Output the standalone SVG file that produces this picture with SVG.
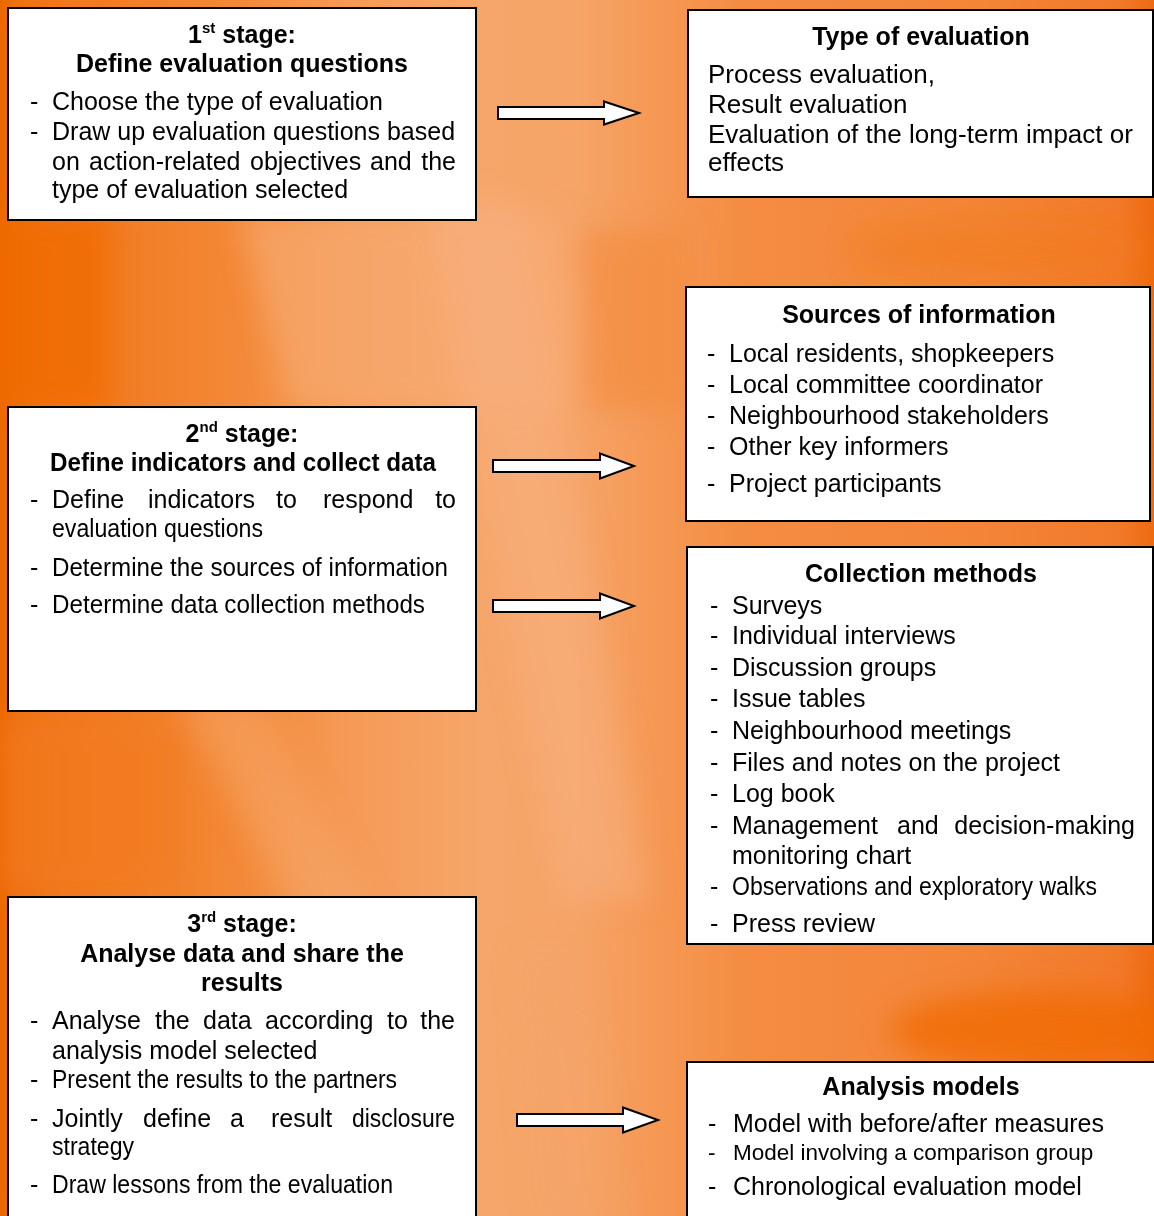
<svg xmlns="http://www.w3.org/2000/svg" width="1154" height="1216" viewBox="0 0 1154 1216">
<style>
.box{fill:#fff;stroke:#000;stroke-width:2}
.arrow{fill:#fff;stroke:#000;stroke-width:2;stroke-linejoin:miter}
text{font-family:"Liberation Sans",Arial,Helvetica,sans-serif;font-size:25px;fill:#000}
.b{font-weight:bold}
.c{text-anchor:middle}
.e{text-anchor:end}
.t26{font-size:26px}
.s{font-size:22.5px}
</style>
<defs>
<linearGradient id="bg" x1="0" y1="0" x2="1" y2="0">
<stop offset="0" stop-color="#ec6602"/>
<stop offset="0.015" stop-color="#f07416"/>
<stop offset="0.1" stop-color="#f27c24"/>
<stop offset="0.2" stop-color="#f38836"/>
<stop offset="0.3" stop-color="#f59a56"/>
<stop offset="0.42" stop-color="#f6a66a"/>
<stop offset="0.5" stop-color="#f6a468"/>
<stop offset="0.57" stop-color="#f59854"/>
<stop offset="0.65" stop-color="#f48c42"/>
<stop offset="0.85" stop-color="#f38538"/>
<stop offset="0.97" stop-color="#f2792a"/>
<stop offset="1" stop-color="#ee6a10"/>
</linearGradient>
<filter id="blur" x="-30%" y="-30%" width="160%" height="160%"><feGaussianBlur stdDeviation="14"/></filter>
</defs>

<g id="background">
<rect x="0" y="0" width="1154" height="1216" fill="url(#bg)"/>
<g filter="url(#blur)">
<rect x="-20" y="215" width="130" height="195" fill="#f06a00" opacity="0.8"/>
<polygon points="240,215 560,215 600,410 290,410" fill="#f7ac74" opacity="0.6"/>
<polygon points="430,200 520,200 650,900 560,900" fill="#f8b282" opacity="0.5"/>
<polygon points="180,700 260,700 420,1000 340,1000" fill="#f7aa72" opacity="0.45"/>
<polygon points="1010,700 1080,700 1150,900 1070,900" fill="#f7ae78" opacity="0.5"/>
<polygon points="520,950 580,950 620,1216 540,1216" fill="#f6a468" opacity="0.5"/>
<ellipse cx="1040" cy="1030" rx="150" ry="40" fill="#f06a05" opacity="0.75"/>
<rect x="580" y="230" width="110" height="180" fill="#f48a3e" opacity="0.6"/>
<ellipse cx="1000" cy="250" rx="150" ry="30" fill="#f27a1a" opacity="0.5"/>
<rect x="-20" y="0" width="50" height="1216" fill="#ee6a08" opacity="0.5"/>
<rect x="0" y="720" width="180" height="170" fill="#f27a1e" opacity="0.6"/>
</g>
</g>

<g id="stage1">
<rect class="box" x="8" y="8" width="468" height="212"/>
<text class="b c" x="242" y="43">1<tspan font-size="15" dy="-10">st</tspan><tspan dy="10"> stage:</tspan></text>
<text class="b c" x="242" y="72">Define evaluation questions</text>
<text x="30" y="110">-</text>
<text x="52" y="110">Choose the type of evaluation</text>
<text x="30" y="140">-</text>
<text x="52" y="140">Draw up evaluation questions based</text>
<text y="170"><tspan x="52">on</tspan><tspan x="89">action-related</tspan><tspan x="250">objectives</tspan><tspan x="370">and</tspan></text>
<text class="e" x="456" y="170">the</text>
<text x="52" y="198">type of evaluation selected</text>
</g>

<g id="type-of-evaluation">
<rect class="box" x="688" y="10" width="465" height="187"/>
<text class="b c" x="921" y="45">Type of evaluation</text>
<text class="t26" x="708" y="83">Process evaluation,</text>
<text class="t26" x="708" y="113">Result evaluation</text>
<text class="t26" x="708" y="143">Evaluation of the long-term impact or</text>
<text class="t26" x="708" y="171">effects</text>
</g>

<g id="sources-of-information">
<rect class="box" x="686" y="287" width="464" height="234"/>
<text class="b c" x="919" y="323">Sources of information</text>
<text x="707" y="362">-</text><text x="729" y="362">Local residents, shopkeepers</text>
<text x="707" y="393">-</text><text x="729" y="393">Local committee coordinator</text>
<text x="707" y="424">-</text><text x="729" y="424">Neighbourhood stakeholders</text>
<text x="707" y="455">-</text><text x="729" y="455">Other key informers</text>
<text x="707" y="492">-</text><text x="729" y="492">Project participants</text>
</g>

<g id="stage2">
<rect class="box" x="8" y="407" width="468" height="304"/>
<text class="b c" x="242" y="442">2<tspan font-size="15" dy="-10">nd</tspan><tspan dy="10"> stage:</tspan></text>
<text class="b" x="50" y="471" textLength="386" lengthAdjust="spacingAndGlyphs">Define indicators and collect data</text>
<text x="30" y="508">-</text>
<text y="508"><tspan x="52">Define</tspan><tspan x="148">indicators</tspan><tspan x="276">to</tspan><tspan x="323">respond</tspan></text>
<text class="e" x="456" y="508">to</text>
<text x="52" y="537" textLength="211" lengthAdjust="spacingAndGlyphs">evaluation questions</text>
<text x="30" y="576">-</text>
<text x="52" y="576" textLength="396" lengthAdjust="spacingAndGlyphs">Determine the sources of information</text>
<text x="30" y="613">-</text>
<text x="52" y="613" textLength="373" lengthAdjust="spacingAndGlyphs">Determine data collection methods</text>
</g>

<g id="collection-methods">
<rect class="box" x="687" y="547" width="466" height="397"/>
<text class="b c" x="921" y="582">Collection methods</text>
<text x="710" y="614">-</text><text x="732" y="614">Surveys</text>
<text x="710" y="644">-</text><text x="732" y="644">Individual interviews</text>
<text x="710" y="676">-</text><text x="732" y="676">Discussion groups</text>
<text x="710" y="707">-</text><text x="732" y="707">Issue tables</text>
<text x="710" y="739">-</text><text x="732" y="739">Neighbourhood meetings</text>
<text x="710" y="771">-</text><text x="732" y="771">Files and notes on the project</text>
<text x="710" y="802">-</text><text x="732" y="802">Log book</text>
<text x="710" y="834">-</text>
<text y="834"><tspan x="732">Management</tspan><tspan x="897">and</tspan></text>
<text class="e" x="1135" y="834">decision-making</text>
<text x="732" y="864">monitoring chart</text>
<text x="710" y="895">-</text><text x="732" y="895" textLength="365" lengthAdjust="spacingAndGlyphs">Observations and exploratory walks</text>
<text x="710" y="932">-</text><text x="732" y="932">Press review</text>
</g>

<g id="stage3">
<rect class="box" x="8" y="897" width="468" height="340"/>
<text class="b c" x="242" y="932">3<tspan font-size="15" dy="-10">rd</tspan><tspan dy="10"> stage:</tspan></text>
<text class="b c" x="242" y="962">Analyse data and share the</text>
<text class="b c" x="242" y="991">results</text>
<text x="30" y="1029">-</text>
<text y="1029"><tspan x="52">Analyse</tspan><tspan x="155">the</tspan><tspan x="203">data</tspan><tspan x="265">according</tspan><tspan x="387">to</tspan></text>
<text class="e" x="455" y="1029">the</text>
<text x="52" y="1059">analysis model selected</text>
<text x="30" y="1088">-</text>
<text x="52" y="1088" textLength="345" lengthAdjust="spacingAndGlyphs">Present the results to the partners</text>
<text x="30" y="1127">-</text>
<text y="1127"><tspan x="52">Jointly</tspan><tspan x="143">define</tspan><tspan x="230">a</tspan><tspan x="271">result</tspan></text>
<text x="352" y="1127" textLength="103" lengthAdjust="spacingAndGlyphs">disclosure</text>
<text x="52" y="1155" textLength="82" lengthAdjust="spacingAndGlyphs">strategy</text>
<text x="30" y="1193">-</text>
<text x="52" y="1193" textLength="341" lengthAdjust="spacingAndGlyphs">Draw lessons from the evaluation</text>
</g>

<g id="analysis-models">
<rect class="box" x="687" y="1062" width="470" height="170"/>
<text class="b c" x="921" y="1095">Analysis models</text>
<text x="708" y="1132">-</text><text x="733" y="1132">Model with before/after measures</text>
<text class="s" x="708" y="1160">-</text><text class="s" x="733" y="1160">Model involving a comparison group</text>
<text x="708" y="1195">-</text><text x="733" y="1195">Chronological evaluation model</text>
</g>

<g id="connectors">
<path class="arrow" d="M498,107 H604 V101.5 L639,113 L604,124.5 V119 H498 Z"/>
<path class="arrow" d="M493,460 H600 V453.5 L634,466 L600,478.5 V472 H493 Z"/>
<path class="arrow" d="M493,600 H600 V593.5 L634,606 L600,618.5 V612 H493 Z"/>
<path class="arrow" d="M517,1114 H623 V1107.5 L658,1120 L623,1132.5 V1126 H517 Z"/>
</g>
</svg>
